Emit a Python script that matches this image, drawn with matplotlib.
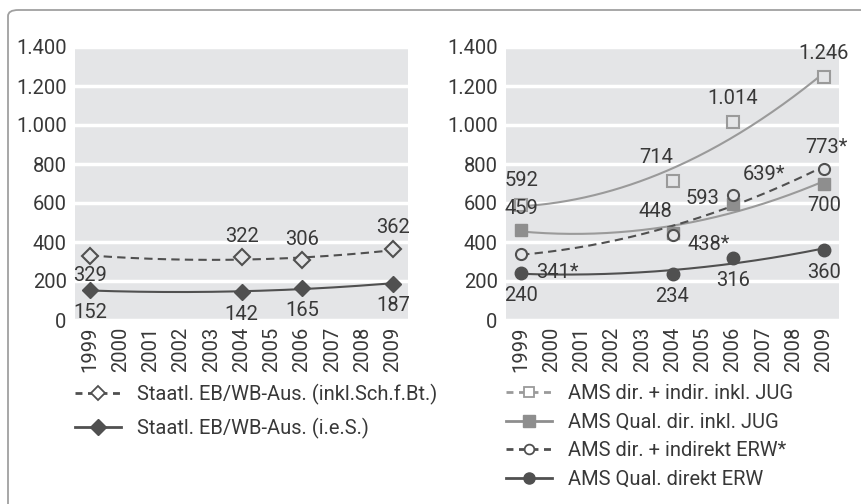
import numpy as np
import matplotlib
matplotlib.use("Agg")
from matplotlib import pyplot as plt
from matplotlib.lines import Line2D
from matplotlib.patches import FancyBboxPatch

plt.rcParams['font.family'] = ['Roboto', 'DejaVu Sans']
FS = 14.5

years = list(range(1999, 2010))
pts = [1999, 2004, 2006, 2009]

# left panel
staatl_inkl = [329, 322, 306, 362]
staatl_ies = [152, 142, 165, 187]

# right panel
ams_dir_jug = [592, 714, 1014, 1246]
ams_qual_jug = [459, 448, 593, 700]
ams_dir_erw = [341, 438, 639, 773]
ams_qual_erw = [240, 234, 316, 360]

yticks = [0, 200, 400, 600, 800, 1000, 1200, 1400]
ylabels = ['0', '200', '400', '600', '800', '1.000', '1.200', '1.400']

BG = '#e4e5e7'
TXT = '#383838'
DARK = '#505050'
LIGHT = '#9a9a9a'
MID = '#8e8e8e'


def fmt(v):
    return f"{v:,}".replace(',', '.')


def trend(ax, y, color, ls):
    c = np.polyfit(np.array(pts) - 1999, y, 2)
    xs = np.linspace(0, 10, 200)
    ax.plot(xs + 1999, np.polyval(c, xs), color=color, ls=ls, lw=1.5,
            dashes=(4, 2.5) if ls == '--' else (None, None), zorder=2)


def label(ax, x, y, txt, dx, dy):
    ax.annotate(txt, (x, y), xytext=(dx, dy), textcoords='offset points',
                ha='center', va='center', color=TXT, fontsize=FS, zorder=5)


def setup(ax):
    ax.set_facecolor(BG)
    ax.set_xlim(1998.5, 2009.5)
    ax.set_ylim(0, 1400)
    ax.set_yticks(yticks, ylabels)
    ax.set_xticks(years, [str(y) for y in years], rotation=90)
    ax.tick_params(length=0, colors=TXT, labelsize=FS)
    ax.tick_params(axis='y', pad=6)
    ax.tick_params(axis='x', pad=5)
    for s in ax.spines.values():
        s.set_visible(False)
    ax.grid(axis='y', color='white', lw=2.5)
    ax.set_axisbelow(True)


fig = plt.figure(figsize=(8.62, 5.04), dpi=100)
box = FancyBboxPatch((8 / 862, -0.1), 1.0, 1.0 - 10 / 504 + 0.1,
                     boxstyle='round,pad=0,rounding_size=0.012',
                     transform=fig.transFigure, fc='white', ec='#a0a0a0',
                     lw=1.3, zorder=-1)
fig.patches.append(box)

ax1 = fig.add_axes([75 / 862, 1 - 320 / 504, 333 / 862, 273 / 504])
ax2 = fig.add_axes([506 / 862, 1 - 320 / 504, 333 / 862, 273 / 504])
setup(ax1)
setup(ax2)

# left panel
trend(ax1, staatl_inkl, DARK, '--')
trend(ax1, staatl_ies, DARK, '-')
ax1.plot(pts, staatl_inkl, ls='none', marker='D', ms=8, mfc=BG, mec=DARK,
         mew=1.5, zorder=3)
ax1.plot(pts, staatl_ies, ls='none', marker='D', ms=8, mfc=DARK, mec=DARK,
         zorder=3)
for x, v, dy in zip(pts, staatl_inkl, [-14, 15, 15, 16]):
    label(ax1, x, v, fmt(v), 0, dy)
for x, v, dy in zip(pts, staatl_ies, [-16, -16, -16, -16]):
    label(ax1, x, v, fmt(v), 0, dy)

# right panel
trend(ax2, ams_dir_jug, LIGHT, '-')
trend(ax2, ams_qual_jug, LIGHT, '-')
trend(ax2, ams_dir_erw, DARK, '--')
trend(ax2, ams_qual_erw, DARK, '-')
ax2.plot(pts, ams_dir_jug, ls='none', marker='s', ms=8, mfc=BG, mec=LIGHT,
         mew=1.5, zorder=3)
ax2.plot(pts, ams_qual_jug, ls='none', marker='s', ms=9, mfc=MID, mec=MID,
         zorder=3)
ax2.plot(pts, ams_dir_erw, ls='none', marker='o', ms=8, mfc=BG, mec=DARK,
         mew=1.5, zorder=3)
ax2.plot(pts, ams_qual_erw, ls='none', marker='o', ms=9, mfc=DARK, mec=DARK,
         zorder=3)

for x, v, (dx, dy) in zip(pts, ams_dir_jug, [(0, 17), (-12, 17), (0, 17), (0, 17)]):
    label(ax2, x, v, fmt(v), dx, dy)
for x, v, (dx, dy) in zip(pts, ams_qual_jug, [(0, 16), (-12, 15), (-22, 4), (0, -16)]):
    label(ax2, x, v, fmt(v), dx, dy)
for x, v, (dx, dy) in zip(pts, ams_dir_erw, [(26, -14), (26, -7), (22, 15), (2, 16)]):
    label(ax2, x, v, fmt(v) + '*', dx, dy)
for x, v, (dx, dy) in zip(pts, ams_qual_erw, [(0, -16), (0, -16), (0, -16), (0, -16)]):
    label(ax2, x, v, fmt(v), dx, dy)

# legends
h1 = [Line2D([], [], color=DARK, ls='--', dashes=(2.5, 2), lw=2, marker='D', ms=7,
             mfc='white', mec=DARK, mew=1.3),
      Line2D([], [], color=DARK, ls='-', lw=2, marker='D', ms=8, mfc=DARK, mec=DARK)]
fig.legend(h1, ['Staatl. EB/WB-Aus. (inkl.Sch.f.Bt.)', 'Staatl. EB/WB-Aus. (i.e.S.)'],
           loc='upper left', bbox_to_anchor=(75 / 862, 1 - 384 / 504), frameon=False,
           handlelength=2.3, handletextpad=0.8, labelspacing=0.62, fontsize=FS,
           labelcolor=TXT, borderpad=0, borderaxespad=0)

h2 = [Line2D([], [], color=LIGHT, ls='--', dashes=(2.5, 2), lw=2, marker='s', ms=7,
             mfc='white', mec=LIGHT, mew=1.3),
      Line2D([], [], color=MID, ls='-', lw=2, marker='s', ms=8, mfc=MID, mec=MID),
      Line2D([], [], color=DARK, ls='--', dashes=(2.5, 2), lw=2, marker='o', ms=7,
             mfc='white', mec=DARK, mew=1.3),
      Line2D([], [], color=DARK, ls='-', lw=2, marker='o', ms=8, mfc=DARK, mec=DARK)]
fig.legend(h2, ['AMS dir. + indir. inkl. JUG', 'AMS Qual. dir. inkl. JUG',
                'AMS dir. + indirekt ERW*', 'AMS Qual. direkt ERW'],
           loc='upper left', bbox_to_anchor=(506 / 862, 1 - 384 / 504), frameon=False,
           handlelength=2.3, handletextpad=0.8, labelspacing=0.48, fontsize=FS,
           labelcolor=TXT, borderpad=0, borderaxespad=0)

fig.savefig('out.png', dpi=100)
